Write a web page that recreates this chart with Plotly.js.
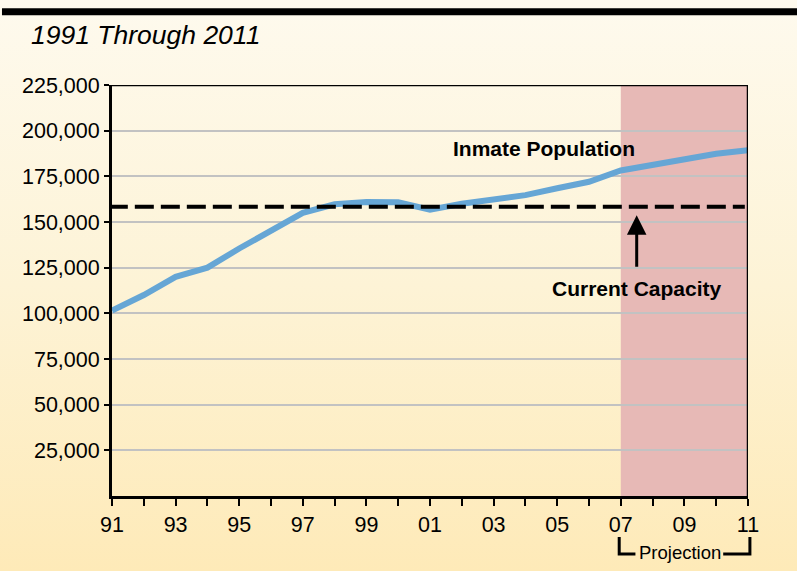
<!DOCTYPE html>
<html>
<head>
<meta charset="utf-8">
<script src="https://cdn.plot.ly/plotly-3.0.1.min.js"></script>
<style>
  html, body { margin: 0; padding: 0; }
  #chart { width: 797px; height: 571px; background: linear-gradient(to bottom, #fefaee 0%, #fdf3d6 50%, #feeab8 100%); }
</style>
</head>
<body>
<div id="chart"></div>
<script>
// ---- Data ----
const years = [1991,1992,1993,1994,1995,1996,1997,1998,1999,2000,2001,2002,2003,2004,2005,2006,2007,2008,2009,2010,2011];
const inmatePopulation = [101500,110000,120000,125000,135500,145500,155000,159700,161000,160800,156800,160000,162300,164700,168500,172000,178200,181500,184600,187400,189300];
const currentCapacity = 158300;
const projectionStart = 2007;
const projectionEnd = 2011;
const xTickVals = years;
const xTickText = ['91','','93','','95','','97','','99','','01','','03','','05','','07','','09','','11'];
const yTickVals = [25000,50000,75000,100000,125000,150000,175000,200000,225000];
const yTickText = ['25,000','50,000','75,000','100,000','125,000','150,000','175,000','200,000','225,000'];

const FONT = 'Liberation Sans, Arial, Helvetica, sans-serif';

const traces = [{
  x: years,
  y: inmatePopulation,
  type: 'scatter',
  mode: 'lines',
  line: { color: '#66a6d5', width: 6 },
  hoverinfo: 'skip'
}];

const layout = {
  width: 797,
  height: 571,
  margin: { l: 112, r: 49, t: 85, b: 75 },
  paper_bgcolor: 'rgba(0,0,0,0)',
  plot_bgcolor: 'rgba(0,0,0,0)',
  showlegend: false,
  font: { family: FONT, color: '#000', size: 20 },
  xaxis: {
    range: [1991, 2011],
    tickmode: 'array',
    tickvals: xTickVals,
    ticktext: xTickText,
    ticks: 'outside',
    ticklen: 7,
    tickwidth: 2,
    tickcolor: '#000',
    showline: true,
    linecolor: '#000',
    linewidth: 3,
    showgrid: false,
    zeroline: false,
    tickfont: { family: FONT, size: 21.5, color: '#000' }
  },
  yaxis: {
    range: [0, 225000],
    tickmode: 'array',
    tickvals: yTickVals,
    ticktext: yTickText,
    ticks: 'outside',
    ticklen: 5,
    tickwidth: 2,
    tickcolor: '#000',
    showline: true,
    linecolor: '#000',
    linewidth: 3,
    showgrid: true,
    gridcolor: '#c2c2c2',
    gridwidth: 2,
    zeroline: false,
    tickfont: { family: FONT, size: 21.5, color: '#000' }
  },
  shapes: [
    // projection shaded area
    { type: 'rect', xref: 'x', yref: 'y', x0: projectionStart, x1: projectionEnd, y0: 0, y1: 225000,
      fillcolor: '#e7b9b6', line: { width: 0 }, layer: 'below' },
    // top border
    { type: 'line', xref: 'x', yref: 'y', x0: 1991, x1: 2011, y0: 225000, y1: 225000,
      line: { color: '#000', width: 2.5 } },
    // right border
    { type: 'line', xref: 'x', yref: 'y', x0: 2011, x1: 2011, y0: 0, y1: 225000,
      line: { color: '#000', width: 2.5 } },
    // capacity line
    { type: 'line', xref: 'x', yref: 'y', x0: 1990.9, x1: 2010.9, y0: currentCapacity, y1: currentCapacity,
      line: { color: '#000', width: 4, dash: '19px,7px' } },
    // black header bar
    { type: 'rect', xref: 'paper', yref: 'paper', x0: -0.173, x1: 1.08, y0: 1.170, y1: 1.187,
      fillcolor: '#000', line: { width: 0 } },
    // projection bracket left
    { type: 'path', xref: 'paper', yref: 'paper',
      path: 'M 0.7975,-0.100 L 0.7975,-0.141 L 0.823,-0.141',
      line: { color: '#000', width: 3 } },
    // projection bracket right
    { type: 'path', xref: 'paper', yref: 'paper',
      path: 'M 0.961,-0.141 L 1.003,-0.141 L 1.003,-0.100',
      line: { color: '#000', width: 3 } }
  ],
  annotations: [
    { xref: 'paper', yref: 'paper', x: -0.131, y: 1.122, xanchor: 'left', yanchor: 'middle',
      text: '<i>1991 Through 2011</i>', showarrow: false,
      font: { family: FONT, size: 26.5, color: '#000' } },
    { xref: 'x', yref: 'y', x: 2004.58, y: 190400, text: '<b>Inmate Population</b>', showarrow: false,
      xanchor: 'center', yanchor: 'middle', font: { family: FONT, size: 21, color: '#000' } },
    { xref: 'x', yref: 'y', x: 2007.5, y: 113800, text: '<b>Current Capacity</b>', showarrow: false,
      xanchor: 'center', yanchor: 'middle', font: { family: FONT, size: 21, color: '#000' } },
    { xref: 'x', yref: 'y', axref: 'x', ayref: 'y', x: 2007.5, y: 153700, ax: 2007.5, ay: 124700,
      text: '', showarrow: true, arrowhead: 2, arrowsize: 1.3, arrowwidth: 3, arrowcolor: '#000' },
    { xref: 'paper', yref: 'paper', x: 0.893, y: -0.137, text: 'Projection', showarrow: false,
      xanchor: 'center', yanchor: 'middle', font: { family: FONT, size: 18.5, color: '#000' } }
  ]
};

Plotly.newPlot('chart', traces, layout, { displayModeBar: false, staticPlot: true });
</script>
</body>
</html>
